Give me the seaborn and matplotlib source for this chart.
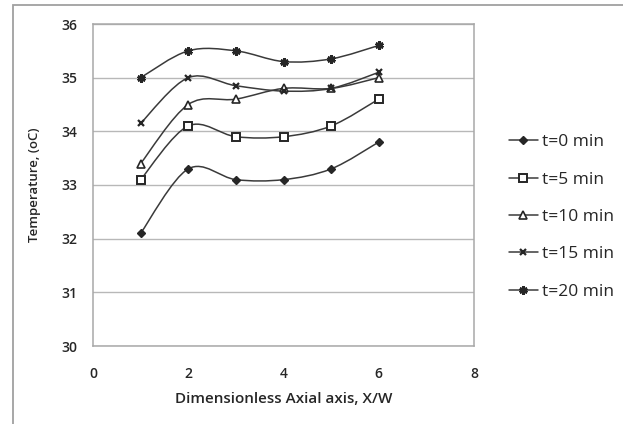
import numpy as np
import matplotlib
matplotlib.use("Agg")
import matplotlib.pyplot as plt
from matplotlib.path import Path
from matplotlib.patches import PathPatch, Rectangle
from matplotlib.lines import Line2D
import seaborn as sns
import pandas as pd

x_vals = [1, 2, 3, 4, 5, 6]
t0 = [32.1, 33.3, 33.1, 33.1, 33.3, 33.8]
t5 = [33.1, 34.1, 33.9, 33.9, 34.1, 34.6]
t10 = [33.4, 34.5, 34.6, 34.8, 34.8, 35.0]
t15 = [34.15, 35.0, 34.85, 34.75, 34.8, 35.1]
t20 = [35.0, 35.5, 35.5, 35.3, 35.35, 35.6]
series_names = ["t=0 min", "t=5 min", "t=10 min", "t=15 min", "t=20 min"]
series_vals = [t0, t5, t10, t15, t20]
x_ticks = [0, 2, 4, 6, 8]
y_ticks = [30, 31, 32, 33, 34, 35, 36]

sns.set_theme(style="white")
plt.rcParams['font.family'] = ['Open Sans', 'DejaVu Sans']

W, H = 623, 424
fig = plt.figure(figsize=(W / 100, H / 100), dpi=100)
ax = fig.add_axes([93 / W, 1 - 346 / H, (474 - 93) / W, (346 - 24) / H])

rows = []
for name, vals in zip(series_names, series_vals):
    for xv, yv in zip(x_vals, vals):
        rows.append({"x": xv, "y": yv, "series": name})
df = pd.DataFrame(rows)

ink = "#262626"
styles = {
    "t=0 min": dict(marker="D", ms=3.8, mfc=ink, mec=ink, mew=1.0),
    "t=5 min": dict(marker="s", ms=5.3, mfc="white", mec=ink, mew=1.4),
    "t=10 min": dict(marker="^", ms=5.5, mfc="white", mec=ink, mew=1.2),
    "t=15 min": dict(marker="x", ms=5.0, mfc=ink, mec=ink, mew=1.6),
    "t=20 min": dict(marker=(6, 2, 0), ms=6.0, mfc=ink, mec=ink, mew=2.0),
}


def smooth_path(xs, ys):
    pts = np.column_stack([xs, ys]).astype(float)
    n = len(pts)
    verts = [pts[0]]
    codes = [Path.MOVETO]
    for i in range(n - 1):
        p_prev = pts[i - 1] if i > 0 else pts[i]
        p_next2 = pts[i + 2] if i + 2 < n else pts[i + 1]
        c1 = pts[i] + (pts[i + 1] - p_prev) / 6.0
        c2 = pts[i + 1] - (p_next2 - pts[i]) / 6.0
        verts += [c1, c2, pts[i + 1]]
        codes += [Path.CURVE4] * 3
    return Path(verts, codes)


for name in series_names:
    sub = df[df["series"] == name]
    ax.add_patch(PathPatch(smooth_path(sub["x"].values, sub["y"].values),
                           fill=False, edgecolor="#3a3a3a", lw=1.1, zorder=3))
    st = styles[name]
    sns.lineplot(data=sub, x="x", y="y", ax=ax, linestyle="none",
                 marker=st["marker"], markersize=st["ms"],
                 markerfacecolor=st["mfc"], markeredgecolor=st["mec"],
                 markeredgewidth=st["mew"], color=ink, zorder=4,
                 legend=False, estimator=None)

ax.set_xlim(0, 8)
ax.set_ylim(30, 36)
ax.set_xticks(x_ticks)
ax.set_yticks(y_ticks)
ax.yaxis.grid(True, color="#b8b8b8", lw=1.0)
ax.xaxis.grid(False)
for sp in ax.spines.values():
    sp.set_visible(True)
    sp.set_color("#a8a8a8")
    sp.set_linewidth(1.1)
ax.tick_params(axis="both", labelsize=10, colors=ink, length=0)
ax.tick_params(axis="y", pad=11)
ax.tick_params(axis="x", pad=15)
for lab in ax.get_xticklabels() + ax.get_yticklabels():
    lab.set_fontweight("semibold")
ax.set_xlabel("Dimensionless Axial axis, X/W", fontsize=11, fontweight="semibold",
              color=ink, labelpad=8)
ax.set_ylabel("Temperature, (oC)", fontsize=9.5, fontweight="semibold",
              color=ink, labelpad=15)

handles = []
for name in series_names:
    st = styles[name]
    handles.append(Line2D([0], [0], color="#3a3a3a", lw=1.1, marker=st["marker"],
                          markersize=st["ms"], markerfacecolor=st["mfc"],
                          markeredgecolor=st["mec"], markeredgewidth=st["mew"]))
fig.legend(handles, series_names, loc="center left",
           bbox_to_anchor=(493 / W, 1 - 217 / H), frameon=False,
           fontsize=12.5, handlelength=1.7, handletextpad=0.2,
           labelspacing=1.22, labelcolor=ink, borderpad=0.4)

fig.patches.append(Rectangle((13 / W, -0.1), 1.2, 1.1 - 5 / H,
                             transform=fig.transFigure, fill=False,
                             edgecolor="#a0a0a0", lw=1.3))

fig.savefig("out.png", dpi=100, facecolor="white")
